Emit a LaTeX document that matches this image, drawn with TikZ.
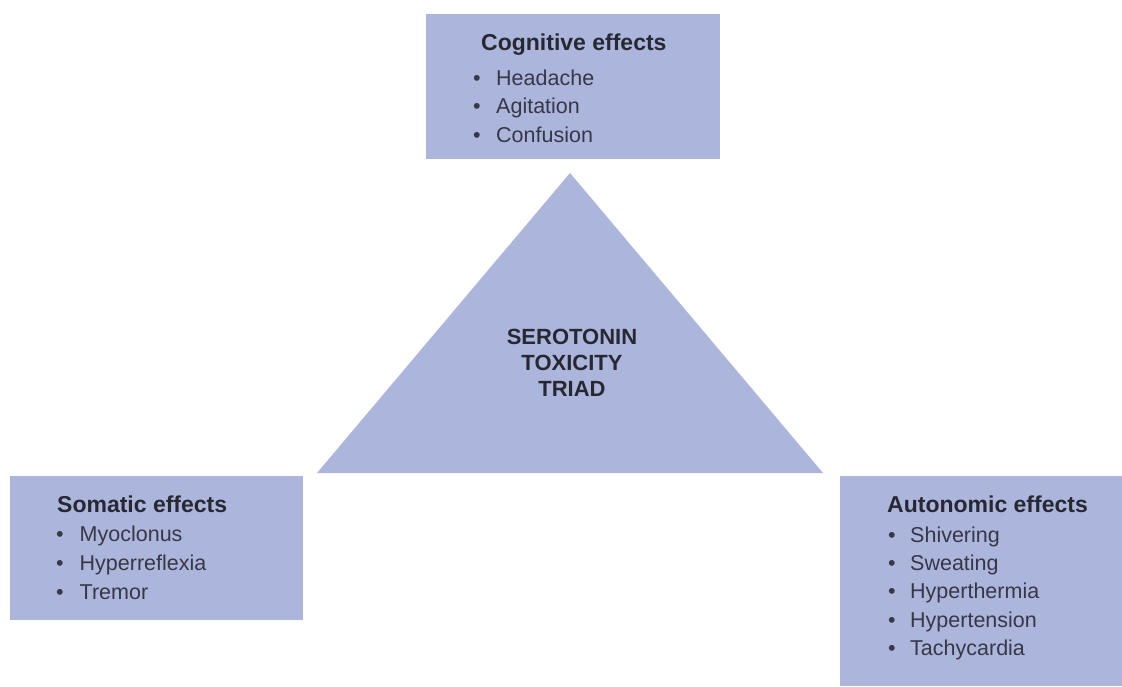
\documentclass[tikz,border=0pt]{standalone}
\usepackage{fontspec}
\setmainfont{Liberation Sans}
\definecolor{boxfill}{RGB}{172,182,220}
\definecolor{titlecol}{RGB}{40,40,50}
\definecolor{itemcol}{RGB}{55,55,70}
\begin{document}
\begin{tikzpicture}[x=1pt,y=-1pt,
  panel/.style={fill=boxfill,draw=none,inner sep=0pt,anchor=north west},
  paneltitle/.style={inner sep=0pt,anchor=base west,text=titlecol,font=\fontsize{23}{27}\selectfont\bfseries},
  panelitem/.style={inner sep=0pt,anchor=base west,text=itemcol,font=\fontsize{21.5}{26}\selectfont},
  triadtext/.style={inner sep=0pt,anchor=base,text=titlecol,font=\fontsize{22}{26}\selectfont\bfseries}]
\useasboundingbox (0,0) rectangle (1122,686);
% boxes
\node[panel,minimum width=294pt,minimum height=145pt] (cog) at (426,14) {};
\node[panel,minimum width=293pt,minimum height=144pt] (som) at (10,476) {};
\node[panel,minimum width=282pt,minimum height=210pt] (aut) at (840,476) {};
% triangle
\coordinate (apex) at (570,173);
\coordinate (bl) at (317,473);
\coordinate (br) at (823,473);
\fill[boxfill] (apex) -- (bl) -- (br) -- cycle;
\node[triadtext] (t1) at (572,344) {SEROTONIN};
\node[triadtext] (t2) at (572,370) {TOXICITY};
\node[triadtext] (t3) at (572,396) {TRIAD};
% cognitive
\node[paneltitle] (cogt) at (481,50) {Cognitive effects};
\node[panelitem] (c1) at (473,85) {\textbullet\hspace{15.5pt}Headache};
\node[panelitem] (c2) at (473,113.5) {\textbullet\hspace{15.5pt}Agitation};
\node[panelitem] (c3) at (473,142) {\textbullet\hspace{15.5pt}Confusion};
% somatic
\node[paneltitle] (somt) at (57,512) {Somatic effects};
\node[panelitem] (s1) at (56,541) {\textbullet\hspace{16pt}Myoclonus};
\node[panelitem] (s2) at (56,570) {\textbullet\hspace{16pt}Hyperreflexia};
\node[panelitem] (s3) at (56,599) {\textbullet\hspace{16pt}Tremor};
% autonomic
\node[paneltitle] (autt) at (887,512) {Autonomic effects};
\node[panelitem] (a1) at (888,542) {\textbullet\hspace{14.5pt}Shivering};
\node[panelitem] (a2) at (888,570) {\textbullet\hspace{14.5pt}Sweating};
\node[panelitem] (a3) at (888,598) {\textbullet\hspace{14.5pt}Hyperthermia};
\node[panelitem] (a4) at (888,627) {\textbullet\hspace{14.5pt}Hypertension};
\node[panelitem] (a5) at (888,655) {\textbullet\hspace{14.5pt}Tachycardia};
\end{tikzpicture}
\end{document}
